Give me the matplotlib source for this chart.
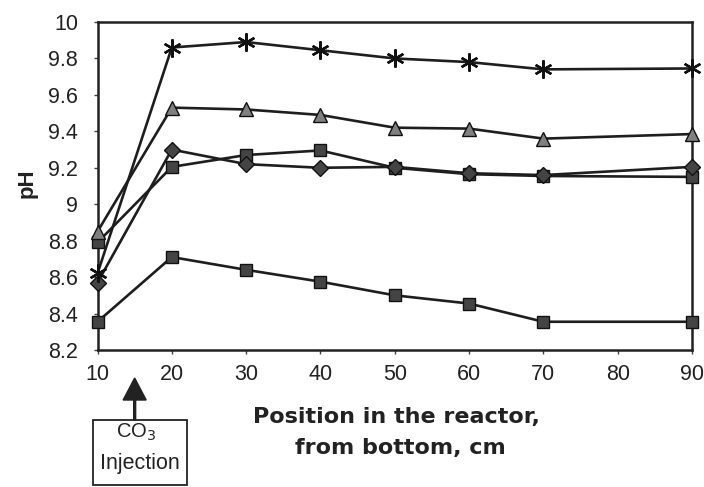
import matplotlib
matplotlib.use("Agg")
import matplotlib.pyplot as plt
from matplotlib.ticker import FuncFormatter
from matplotlib.patches import FancyArrow, Rectangle

plt.rcParams['font.family'] = ['Liberation Sans', 'DejaVu Sans']

# Sampling positions in the reactor (cm from bottom)
position = [10, 20, 30, 40, 50, 60, 70, 90]

# pH profiles
ph_star = [8.62, 9.86, 9.89, 9.845, 9.80, 9.78, 9.74, 9.745]
ph_triangle = [8.85, 9.53, 9.52, 9.49, 9.42, 9.415, 9.36, 9.385]
ph_diamond = [8.57, 9.30, 9.22, 9.20, 9.205, 9.17, 9.16, 9.205]
ph_square_hi = [8.79, 9.205, 9.27, 9.295, 9.20, 9.165, 9.155, 9.15]
ph_square_lo = [8.355, 8.71, 8.64, 8.575, 8.50, 8.455, 8.355, 8.355]

x_ticks = [10, 20, 30, 40, 50, 60, 70, 80, 90]
y_ticks = [8.2, 8.4, 8.6, 8.8, 9.0, 9.2, 9.4, 9.6, 9.8, 10.0]

W, H = 704, 487
fig = plt.figure(figsize=(W / 100, H / 100), dpi=100)
ax = fig.add_axes([97.5 / W, 1 - 350 / H, (692 - 97.5) / W, (350 - 22) / H])

ink = '#1e1e1e'
base = dict(color=ink, linewidth=1.9, markeredgecolor='#111111',
            markeredgewidth=1.0, zorder=3, clip_on=False)

ax.plot(position, ph_square_lo, marker='s', markersize=9,
        markerfacecolor='#444444', **base)
ax.plot(position, ph_square_hi, marker='s', markersize=9,
        markerfacecolor='#444444', **base)
ax.plot(position, ph_diamond, marker='D', markersize=8,
        markerfacecolor='#444444', **base)
ax.plot(position, ph_triangle, marker='^', markersize=10,
        markerfacecolor='#808080', **base)
ax.plot(position, ph_star, marker=(6, 2, 0), markersize=13,
        color=ink, linewidth=1.9, markeredgecolor='#111111',
        markeredgewidth=1.7, zorder=3, clip_on=False)

ax.set_xlim(10, 90)
ax.set_ylim(8.2, 10.0)
ax.set_xticks(x_ticks)
ax.set_yticks(y_ticks)
ax.yaxis.set_major_formatter(FuncFormatter(lambda v, p: f"{v:g}"))

for s in ax.spines.values():
    s.set_linewidth(1.8)
    s.set_color('#222222')

ax.tick_params(axis='both', direction='out', length=3, width=1.0,
               color='#444444', labelsize=15.5, labelcolor='#222222')
ax.tick_params(axis='x', pad=7)
ax.tick_params(axis='y', pad=11)

fig.text(27.5 / W, 1 - 183 / H, 'pH', rotation=90, ha='center', va='center',
         fontsize=16, fontweight='bold', color='#222222')

label_kw = dict(ha='center', va='center', fontsize=16, fontweight='bold',
                color='#222222', family='DejaVu Sans')
fig.text(396 / W, 1 - 417 / H, 'Position in the reactor,', **label_kw)
fig.text(400 / W, 1 - 448 / H, 'from bottom, cm', **label_kw)

# CO3 injection box with an arrow pointing at the injection height
box_l, box_r, box_t, box_b = 93, 187, 420, 485
fig.add_artist(Rectangle((box_l / W, 1 - box_b / H), (box_r - box_l) / W,
                         (box_b - box_t) / H, transform=fig.transFigure,
                         fill=False, edgecolor='#222222', linewidth=1.3))
fig.text(136 / W, 1 - 432 / H, r'CO$_3$', ha='center', va='center',
         fontsize=14.5, color='#222222')
fig.text(140 / W, 1 - 463 / H, 'Injection', ha='center', va='center',
         fontsize=15.5, color='#222222')

inj_x = ax.transData.transform((15, 8.2))[0] / (fig.dpi * fig.get_figwidth())
fig.add_artist(FancyArrow(inj_x, 1 - box_t / H, 0, (box_t - 378) / H,
                          width=0.0028, head_width=23 / W, head_length=22 / H,
                          length_includes_head=True, transform=fig.transFigure,
                          color='#222222'))

fig.savefig('out.png', dpi=100)
